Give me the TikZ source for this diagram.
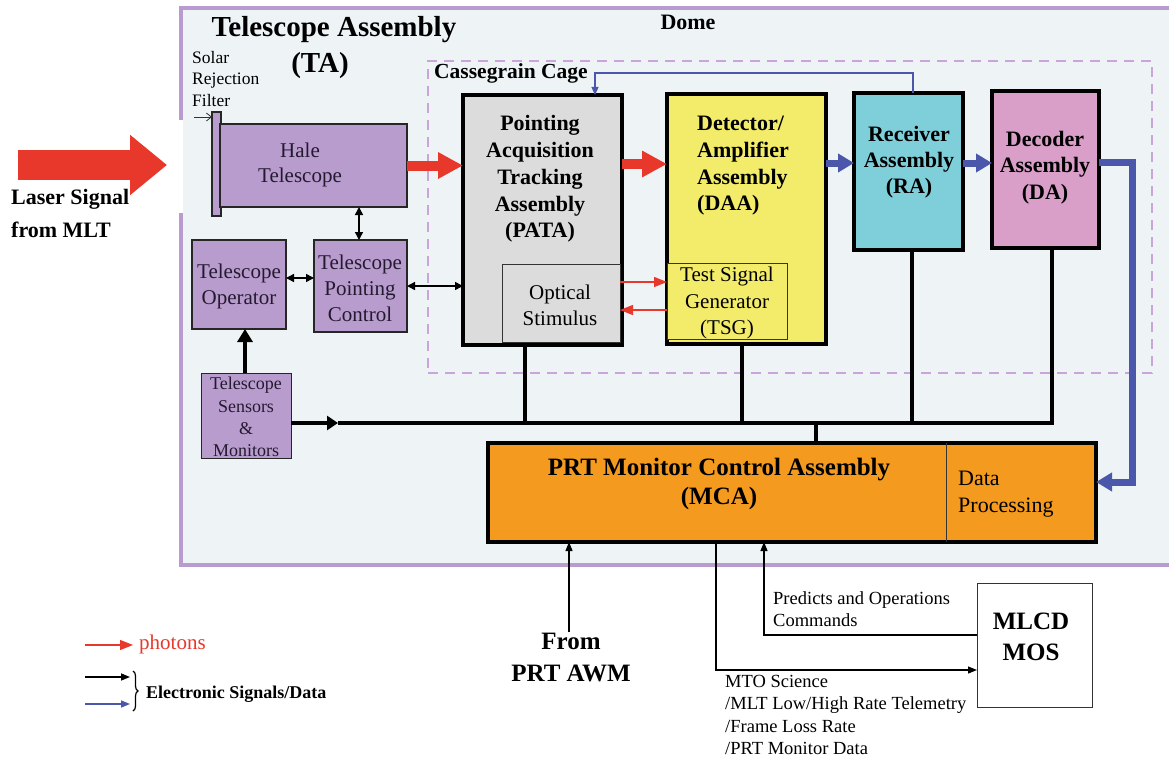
\documentclass[tikz,border=0pt]{standalone}
\usepackage{fontspec}
\setmainfont{Liberation Serif}[BoldFont={Liberation Serif Bold}]
\usetikzlibrary{arrows.meta,decorations.pathreplacing}

\definecolor{domeB}{HTML}{B99BCF}
\definecolor{domeF}{HTML}{EEF4F6}
\definecolor{purpF}{HTML}{B99CCE}
\definecolor{cageC}{HTML}{C9A5DB}
\definecolor{grayF}{HTML}{DCDCDC}
\definecolor{yelF}{HTML}{F3EC6A}
\definecolor{cyanF}{HTML}{7FCFDB}
\definecolor{pinkF}{HTML}{D99FC9}
\definecolor{orngF}{HTML}{F39A1F}
\definecolor{redA}{HTML}{E8382B}
\definecolor{blueA}{HTML}{4B57AB}
\definecolor{inkP}{HTML}{241A30}

\newcommand\setfs[2]{\fontsize{#1}{#2}\selectfont}

\tikzset{
  shapebox/.style={rectangle, inner sep=0pt, outer sep=0pt},
  bigbox/.style={shapebox, draw=black, line width=3.5pt},
  purpbox/.style={shapebox, draw=black!85, line width=1.8pt, fill=purpF},
  thinbox/.style={shapebox, draw=black!80, line width=1pt},
  txt/.style={inner sep=0pt, align=center},
  redbig/.style={draw=redA, line width=10pt, -{Triangle[length=25pt,width=25pt]}},
  bluebig/.style={draw=blueA, line width=7pt, line join=miter, -{Triangle[length=16pt,width=18pt]}},
  bus/.style={draw=black, line width=4pt, line join=miter},
  thinarrow/.style={draw=black, line width=1.2pt, -{Triangle[length=9pt,width=7pt]}},
  dblarrow/.style={draw=black, line width=1.5pt, {Triangle[length=8pt,width=8pt]}-{Triangle[length=8pt,width=8pt]}},
  redthin/.style={draw=redA, line width=1.2pt, -{Triangle[length=13pt,width=10pt]}},
  bluethin/.style={draw=blueA, line width=1.2pt, -{Triangle[length=8pt,width=7pt]}},
}

\begin{document}
\begin{tikzpicture}[x=1pt,y=-1pt]
\fill[white] (0,0) rectangle (1169,757);
\useasboundingbox (0,0) rectangle (1169,757);

% dome enclosure with an opening for the incoming beam
\fill[domeF] (183,8) rectangle (1180,565);
\draw[domeB, line width=4.5pt] (181,120) -- (181,8) -- (1180,8);
\draw[domeB, line width=4.5pt] (181,213) -- (181,565) -- (1180,565);
\node[txt, font=\setfs{22}{26}\bfseries] (domeT) at (688,22) {Dome};

% telescope assembly titles
\node[txt, font=\setfs{29}{34}\bfseries] (taT) at (334,30) {Telescope Assembly};
\node[txt, font=\setfs{29}{34}\bfseries] (taS) at (320,66) {(TA)};
\node[txt, anchor=west, align=left, font=\setfs{17.5}{21.5}] (solar) at (192,79) {Solar\\Rejection\\Filter};

% Cassegrain cage
\node[shapebox, draw=cageC, line width=2pt, dash pattern=on 10pt off 7pt,
      minimum width=724pt, minimum height=312pt] (cage) at (790,217) {};
\node[txt, anchor=west, font=\setfs{21.5}{25}\bfseries] (cageT) at (434,73) {Cassegrain Cage};

% laser input
\coordinate (laserS) at (18,165);
\coordinate (laserE) at (167,165);
\draw[draw=redA, line width=30pt, -{Triangle[length=37pt,width=58pt]}] (laserS) -- (laserE);
\node[txt, anchor=west, align=left, font=\setfs{22}{33}\bfseries] (laserT) at (11,213.5) {Laser Signal\\from MLT};

% telescope boxes
\node[shapebox, draw=black!85, line width=1.2pt, fill=purpF, minimum width=9pt, minimum height=104pt] (filter) at (216.5,164) {};
\node[purpbox, minimum width=187pt, minimum height=83pt] (hale) at (313.5,165.5) {};
\node[txt, text=inkP, font=\setfs{21}{25}] (haleT) at (300,165) {Hale\\Telescope};
\coordinate (filtA) at (194,117);
\draw[black!80, line width=0.8pt, -{Straight Barb[length=5pt,width=8pt]}] (filtA) -- (filter.west |- filtA);

\node[purpbox, line width=1.2pt, minimum width=94pt, minimum height=89pt] (tOp) at (239,284.5) {};
\node[txt, text=inkP, font=\setfs{21}{26}] (tOpT) at (239,286) {Telescope\\Operator};
\node[purpbox, minimum width=93pt, minimum height=92pt] (tpc) at (360.5,286) {};
\node[txt, text=inkP, font=\setfs{21}{26}] (tpcT) at (360,288) {Telescope\\Pointing\\Control};
\node[purpbox, line width=1pt, minimum width=90pt, minimum height=85pt] (tsm) at (246,415.5) {};
\node[txt, text=inkP, font=\setfs{18}{22.3}] (tsmT) at (246,417) {Telescope\\Sensors\\\&\\Monitors};

% Cassegrain cage assemblies
\node[bigbox, fill=grayF, minimum width=159pt, minimum height=250pt] (pata) at (542.5,220) {};
\node[txt, font=\setfs{22}{26.75}\bfseries] (pataT) at (540,179) {Pointing\\Acquisition\\Tracking\\Assembly\\(PATA)};
\node[thinbox, fill=grayF, minimum width=118pt, minimum height=78pt] (os) at (561,303) {};
\node[txt, font=\setfs{21}{26}] (osT) at (560,305) {Optical\\Stimulus};

\node[bigbox, fill=yelF, minimum width=159pt, minimum height=250pt] (daa) at (746.5,219) {};
\node[txt, anchor=west, align=left, font=\setfs{22}{26.7}\bfseries] (daaT) at (697,166) {Detector/\\Amplifier\\Assembly\\(DAA)};
\node[thinbox, fill=yelF, minimum width=120pt, minimum height=76pt] (tsg) at (727,301) {};
\node[txt, font=\setfs{21}{26.5}] (tsgT) at (727,303) {Test Signal\\Generator\\(TSG)};

\node[bigbox, fill=cyanF, minimum width=109pt, minimum height=157pt] (ra) at (908.5,171.5) {};
\node[txt, font=\setfs{22}{26}\bfseries] (raT) at (909,162) {Receiver\\Assembly\\(RA)};
\node[bigbox, fill=pinkF, minimum width=107pt, minimum height=157pt] (da) at (1045.5,169.5) {};
\node[txt, font=\setfs{22}{26.5}\bfseries] (daT) at (1045,167.5) {Decoder\\Assembly\\(DA)};

% monitor control assembly
\node[bigbox, fill=orngF, minimum width=608pt, minimum height=99pt] (mca) at (792,492.5) {};
\coordinate (divX) at (946,0);
\draw[black!80, line width=1pt] (mca.north -| divX) -- (mca.south -| divX);
\node[txt, font=\setfs{25}{29}\bfseries] (mcaT) at (719,484) {PRT Monitor Control Assembly\\(MCA)};
\node[txt, anchor=west, align=left, font=\setfs{22}{27}] (dpT) at (958,494) {Data\\Processing};

% external nodes
\node[thinbox, fill=white, minimum width=115pt, minimum height=124pt] (mlcd) at (1034.5,645) {};
\node[txt, font=\setfs{25}{31}\bfseries] (mlcdT) at (1031,636.5) {MLCD\\MOS};
\node[txt, font=\setfs{25}{32}\bfseries] (awm) at (571,657) {From\\PRT AWM};
\node[txt, anchor=west, align=left, font=\setfs{18.5}{22.5}] (predT) at (773,609) {Predicts and Operations\\Commands};
\node[txt, anchor=west, align=left, font=\setfs{18.5}{22.2}] (mtoT) at (725,715) {MTO Science\\/MLT Low/High Rate Telemetry\\/Frame Loss Rate\\/PRT Monitor Data};

% optical path
\draw[redbig] (hale.east) -- (pata.west |- hale.east);
\coordinate (redY) at (0,164);
\draw[redbig] (pata.east |- redY) -- (daa.west |- redY);
\draw[redthin] (os.east |- 0,282) -- (tsg.west |- 0,282);
\draw[redthin] (tsg.west |- 0,310) -- (os.east |- 0,310);

% electronic signal path
\coordinate (blY) at (0,163);
\draw[bluebig] (daa.east |- blY) -- (ra.west |- blY);
\draw[bluebig] (ra.east |- blY) -- (da.west |- blY);
\coordinate (daOut) at (1132,162);
\coordinate (mcaIn) at (1132,482);
\draw[bluebig] (da.east |- daOut) -- (daOut) -- (mcaIn) -- (mca.east |- mcaIn);
\coordinate (fbR) at (913,73);
\coordinate (fbL) at (595,73);
\draw[bluethin] (ra.north -| fbR) -- (fbR) -- (fbL) -- (pata.north -| fbL);

% telescope control links
\coordinate (htX) at (359,0);
\draw[dblarrow] (hale.south -| htX) -- (tpc.north -| htX);
\draw[dblarrow] (tOp.east |- 0,278) -- (tpc.west |- 0,278);
\draw[dblarrow] (tpc.east |- 0,286) -- (pata.west |- 0,286);
\coordinate (smX) at (245,0);
\draw[draw=black, line width=4pt, -{Triangle[length=13pt,width=15pt]}] (tsm.north -| smX) -- (tOp.south -| smX);

% monitoring bus
\coordinate (busArr) at (338,423);
\coordinate (pataBus) at (525,423);
\coordinate (daaBus) at (742,423);
\coordinate (raBus) at (912,423);
\coordinate (daBus) at (1052,423);
\coordinate (mcaBus) at (816,423);
\draw[draw=black, line width=4pt, -{Triangle[length=11pt,width=14pt]}] (tsm.east |- busArr) -- (busArr);
\draw[bus] (da.south -| daBus) -- (daBus) -- (busArr);
\draw[bus] (pata.south -| pataBus) -- (pataBus);
\draw[bus] (daa.south -| daaBus) -- (daaBus);
\draw[bus] (ra.south -| raBus) -- (raBus);
\draw[bus] (mcaBus) -- (mca.north -| mcaBus);

% ground links
\coordinate (awmX) at (569,0);
\draw[thinarrow] (awm.north -| awmX) -- (mca.south -| awmX);
\coordinate (mtoC) at (716,670);
\draw[thinarrow] (mca.south -| mtoC) -- (mtoC) -- (mlcd.west |- mtoC);
\coordinate (predC) at (764,635);
\draw[thinarrow] (mlcd.west |- predC) -- (predC) -- (mca.south -| predC);

% legend
\coordinate (lgR1) at (85,645);
\coordinate (lgR2) at (133,645);
\draw[redthin] (lgR1) -- (lgR2);
\node[txt, anchor=west, text=redA, font=\setfs{21}{25}] (lgPh) at (139,644) {photons};
\coordinate (lgK1) at (85,677);
\coordinate (lgK2) at (130,677);
\draw[thinarrow, line width=1.5pt] (lgK1) -- (lgK2);
\coordinate (lgB1) at (85,704);
\coordinate (lgB2) at (130,704);
\draw[thinarrow, draw=blueA, line width=1.5pt] (lgB1) -- (lgB2);
\coordinate (brT) at (133,671);
\coordinate (brB) at (133,711);
\draw[black, line width=1.2pt, decorate, decoration={brace, amplitude=5pt}] (brT) -- (brB);
\node[txt, anchor=west, font=\setfs{18}{21}\bfseries] (lgEl) at (146,694) {Electronic Signals/Data};
\end{tikzpicture}
\end{document}
